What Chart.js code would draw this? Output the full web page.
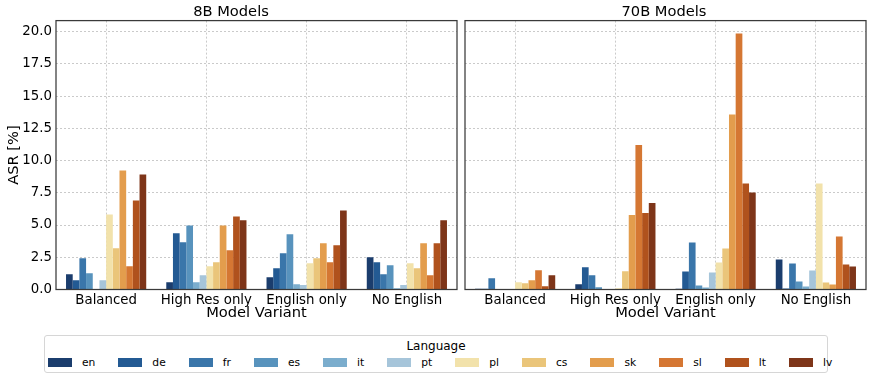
<!DOCTYPE html>
<html>
<head>
<meta charset="utf-8">
<script src="https://cdn.jsdelivr.net/npm/chart.js@4.4.1/dist/chart.umd.min.js"></script>
<style>
    body { margin: 0; width: 873px; height: 380px; background: #fff; position: relative; overflow: hidden; font-family: "DejaVu Sans", sans-serif; color: #000; }
    #graficoIzq { position: absolute; left: 0; top: 0; }
    #graficoDer { position: absolute; left: 462px; top: 0; }
    #leyenda { position: absolute; left: 44px; top: 335px; width: 782px; height: 36px; border: 1px solid #d6d6d6; border-radius: 3px; box-sizing: content-box; }
    #leyenda .titulo { position: absolute; left: 0; right: 0; top: 2px; text-align: center; font-size: 12px; line-height: 16px; }
    #leyenda .items { position: absolute; left: 3px; top: 19px; display: flex; align-items: center; height: 14px; }
    #leyenda .item { display: flex; align-items: center; margin-right: 23px; font-size: 10.7px; }
    #leyenda .caja { width: 24px; height: 9px; margin-right: 10px; }
</style>
</head>
<body>
<canvas id="graficoIzq" width="462" height="322"></canvas>
<canvas id="graficoDer" width="411" height="322"></canvas>
<div id="leyenda">
    <div class="titulo">Language</div>
    <div class="items" id="itemsLeyenda"></div>
</div>
<script>
// Idiomas (series) y variantes del modelo (categorias)
const idiomas = ['en', 'de', 'fr', 'es', 'it', 'pt', 'pl', 'cs', 'sk', 'sl', 'lt', 'lv'];
const variantes = ['Balanced', 'High Res only', 'English only', 'No English'];
const ticksY = [0, 2.5, 5, 7.5, 10, 12.5, 15, 17.5, 20];

// Valores ASR [%], un arreglo por variante (orden de idiomas)
const balanced8B = [1.19, 0.72, 2.42, 1.26, 0, 0.72, 5.82, 3.2, 9.23, 1.8, 6.9, 8.92];
const highRes8B = [0.57, 4.36, 3.66, 4.97, 0.57, 1.11, 1.8, 2.11, 4.97, 3.04, 5.67, 5.36];
const english8B = [0.95, 1.65, 2.81, 4.28, 0.41, 0.34, 2.04, 2.42, 3.58, 2.11, 3.43, 6.13];
const noEnglish8B = [2.5, 2.11, 1.19, 1.88, 0.1, 0.34, 2.04, 1.65, 3.58, 1.11, 3.58, 5.36];

const balanced70B = [0.05, 0.05, 0.88, 0, 0, 0, 0.57, 0.49, 0.72, 1.49, 0.26, 1.11];
const highRes70B = [0.41, 1.73, 1.11, 0.18, 0, 0, 0.1, 1.42, 5.77, 11.2, 5.93, 6.7];
const english70B = [0.05, 1.4, 3.64, 0.31, 0.15, 1.32, 2.09, 3.18, 13.57, 19.85, 8.22, 7.52];
const noEnglish70B = [2.33, 0.08, 2.02, 0.62, 0.23, 1.47, 8.22, 0.54, 0.39, 4.11, 1.94, 1.78];

const colores = ['#1b3d6d', '#235a93', '#3a76aa', '#5893bd', '#7badcd', '#a6c5da',
    '#f2e2ab', '#eac57a', '#e39d4d', '#d57733', '#b0521d', '#7e3519'];

Chart.defaults.font.family = "'DejaVu Sans', sans-serif";
Chart.defaults.color = '#000';

// Arma un dataset por idioma a partir de los arreglos por variante
function armarDatasets(porVariante) {
    return idiomas.map((idioma, i) => ({
        label: idioma,
        data: porVariante.map(v => v[i]),
        backgroundColor: colores[i],
        borderWidth: 0,
        categoryPercentage: 0.8,
        barPercentage: 1.0
    }));
}

// Dibuja el marco del area del grafico (como matplotlib)
const marco = {
    id: 'marco',
    afterDraw(chart) {
        const { ctx, chartArea } = chart;
        ctx.save();
        ctx.strokeStyle = '#3a3a3a';
        ctx.lineWidth = 1.25;
        ctx.strokeRect(chartArea.left, chartArea.top, chartArea.right - chartArea.left, chartArea.bottom - chartArea.top);
        ctx.restore();
    }
};

const gridComun = {
    color: '#c4c4c4',
    lineWidth: 0.9,
    drawTicks: false
};

function crearGrafico(id, titulo, porVariante, esIzq) {
    return new Chart(document.getElementById(id), {
        type: 'bar',
        data: {
            labels: variantes,
            datasets: armarDatasets(porVariante)
        },
        options: {
            responsive: false,
            animation: false,
            devicePixelRatio: 1,
            layout: { padding: { left: esIzq ? 5 : 0, right: esIzq ? 5 : 7, top: 0, bottom: 0 } },
            scales: {
                x: {
                    z: 1,
                    offset: true,
                    grid: Object.assign({ offset: false, borderDash: [2, 2] }, gridComun),
                    border: { display: false, dash: [2, 2] },
                    ticks: { font: { size: 13.33 }, padding: 3, maxRotation: 0, autoSkip: false },
                    title: { display: true, text: 'Model Variant', font: { size: 14.67 }, padding: 0 },
                    afterFit(scale) { scale.height = 32.5; }
                },
                y: {
                    z: 1,
                    min: 0,
                    max: 20.85,
                    grid: Object.assign({}, gridComun),
                    border: { display: false, dash: [2, 2] },
                    afterBuildTicks(scale) { scale.ticks = ticksY.map(v => ({ value: v })); },
                    ticks: {
                        display: esIzq,
                        font: { size: 13.33 },
                        padding: 4,
                        callback: v => Number(v).toFixed(1)
                    },
                    title: { display: esIzq, text: 'ASR [%]', font: { size: 14.67 }, padding: 0 },
                    afterFit(scale) { scale.width = esIzq ? 51 : 3; }
                }
            },
            plugins: {
                legend: { display: false },
                tooltip: { enabled: false },
                title: {
                    display: true,
                    text: titulo,
                    font: { size: 14.67, weight: 'normal' },
                    color: '#000',
                    padding: { top: 3, bottom: 0 }
                }
            }
        },
        plugins: [marco]
    });
}

crearGrafico('graficoIzq', '8B Models', [balanced8B, highRes8B, english8B, noEnglish8B], true);
crearGrafico('graficoDer', '70B Models', [balanced70B, highRes70B, english70B, noEnglish70B], false);

// Leyenda compartida debajo de ambos paneles
const contenedor = document.getElementById('itemsLeyenda');
idiomas.forEach((idioma, i) => {
    let item = document.createElement('div');
    item.className = 'item';
    let caja = document.createElement('div');
    caja.className = 'caja';
    caja.style.background = colores[i];
    let texto = document.createElement('span');
    texto.textContent = idioma;
    item.appendChild(caja);
    item.appendChild(texto);
    contenedor.appendChild(item);
});
</script>
</body>
</html>
